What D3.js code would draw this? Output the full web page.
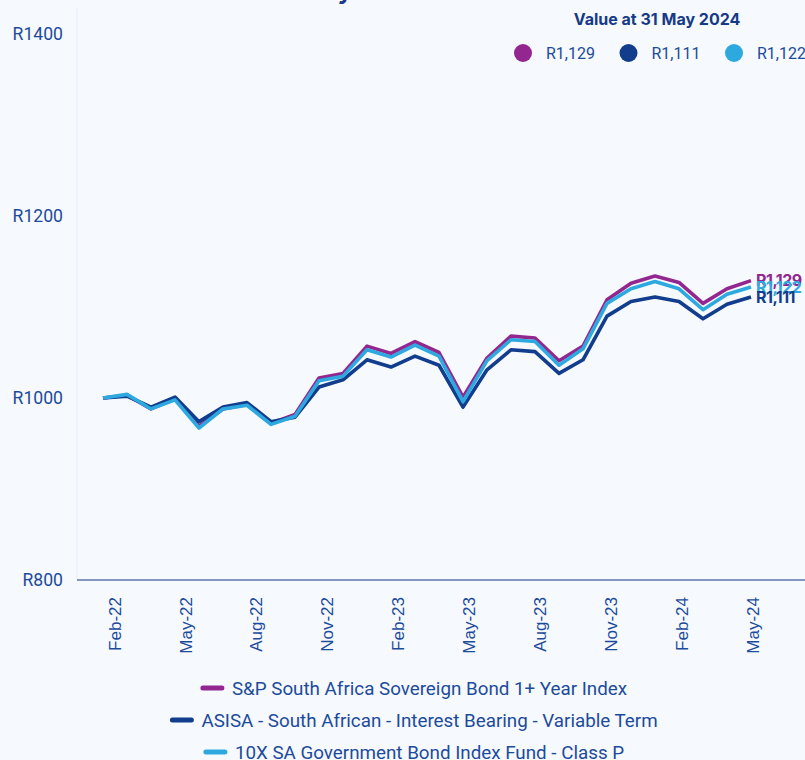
<!DOCTYPE html>
<html>
<head>
<meta charset="utf-8">
<script src="https://cdn.jsdelivr.net/npm/d3@7"></script>
<style>
  html, body { margin: 0; padding: 0; background: #f6f9fe; }
  svg { display: block; }
</style>
</head>
<body>
<div id="chart"></div>
<script>
// month labels, one per point (end of month)
const months = ["Feb-22","Mar-22","Apr-22","May-22","Jun-22","Jul-22","Aug-22","Sep-22","Oct-22","Nov-22",
  "Dec-22","Jan-23","Feb-23","Mar-23","Apr-23","May-23","Jun-23","Jul-23","Aug-23","Sep-23",
  "Oct-23","Nov-23","Dec-23","Jan-24","Feb-24","Mar-24","Apr-24","May-24"];
const tickLabels = ["Feb-22","May-22","Aug-22","Nov-22","Feb-23","May-23","Aug-23","Nov-23","Feb-24","May-24"];
const yTicks = [800, 1000, 1200, 1400];

const sovBond = [1000,1003,988,999,969,988,993,972,982,1022,1027,1057,1049,1062,1050,1001,1044,1068,1066,1041,1057,1108,1126,1134,1127,1104,1120,1129];
const asisaVar = [1000,1002,990,1001,974,990,995,974,979,1012,1020,1042,1034,1046,1036,990,1031,1053,1051,1027,1042,1090,1106,1111,1106,1087,1103,1111];
const fund10x = [1000,1004,988,998,967,988,992,971,980,1019,1024,1053,1045,1058,1046,996,1041,1064,1062,1036,1054,1104,1120,1128,1120,1097,1114,1122];

const seriesNames = ["S&P South Africa Sovereign Bond 1+ Year Index",
  "ASISA - South African - Interest Bearing - Variable Term",
  "10X SA Government Bond Index Fund - Class P"];
const seriesColors = ["#93278f", "#123d8d", "#2ea9e0"];
const endValues = ["R1,129", "R1,111", "R1,122"];

const series = [
  {name: seriesNames[0], color: seriesColors[0], values: sovBond, label: endValues[0]},
  {name: seriesNames[1], color: seriesColors[1], values: asisaVar, label: endValues[1]},
  {name: seriesNames[2], color: seriesColors[2], values: fund10x, label: endValues[2]}
];

const W = 805, H = 760;
const textColor = "#1d4b9b";

const svg = d3.select("#chart").append("svg")
  .attr("width", W).attr("height", H);

svg.append("rect").attr("width", W).attr("height", H).attr("fill", "#f6f9fe");

// title, cut off by the top edge
svg.append("text")
  .attr("x", 108).attr("y", -1)
  .attr("font-family", "Inter, sans-serif").attr("font-weight", 700)
  .attr("font-size", 24).attr("fill", "#1a3c86")
  .text("Performance History");

const x = d3.scalePoint().domain(months).range([103, 751]);
// axis labels sit a bit off the points, like in the source chart
const xLab = d3.scalePoint().domain(months).range([114, 752]);
const y = d3.scaleLinear().domain([800, 1400]).range([580, 34]);

// faint left edge
svg.append("line")
  .attr("x1", 77).attr("x2", 77).attr("y1", 8).attr("y2", 580)
  .attr("stroke", "#e9eef8").attr("stroke-width", 1);

// y axis labels
const yAxis = d3.axisLeft(y).tickValues(yTicks).tickSize(0).tickPadding(0)
  .tickFormat(d => "R" + d);
svg.append("g").attr("transform", "translate(63,0)").call(yAxis)
  .call(g => g.select(".domain").remove())
  .selectAll("text")
  .attr("font-family", "Roboto, sans-serif").attr("font-size", 17.6)
  .attr("fill", textColor);

// baseline
svg.append("line")
  .attr("x1", 77).attr("x2", W).attr("y1", y(800)).attr("y2", y(800))
  .attr("stroke", "#5d74ad").attr("stroke-width", 1.3);

// x axis labels
const xAxis = d3.axisBottom(xLab).tickValues(tickLabels).tickSize(0).tickPadding(0);
svg.append("g").attr("transform", "translate(0," + y(800) + ")").call(xAxis)
  .call(g => g.select(".domain").remove())
  .selectAll("text")
  .attr("font-family", "'Liberation Sans', Arial, sans-serif").attr("font-size", 17)
  .attr("fill", textColor)
  .attr("text-anchor", "end")
  .attr("transform", "rotate(-90)")
  .attr("x", -17).attr("y", 0).attr("dy", "0.36em");

// lines
const line = d3.line().x((d, i) => x(months[i])).y(d => y(d));
const drawOrder = [series[0], series[1], series[2]];
svg.append("g").selectAll("path").data(drawOrder).join("path")
  .attr("d", d => line(d.values))
  .attr("fill", "none")
  .attr("stroke", d => d.color)
  .attr("stroke-width", 3.6)
  .attr("stroke-linejoin", "round");

// end labels
const labelOrder = [series[0], series[2], series[1]];
svg.append("g").selectAll("text").data(labelOrder).join("text")
  .attr("x", 756)
  .attr("y", d => y(d.values[d.values.length - 1]))
  .attr("dy", "0.36em")
  .attr("font-family", "Inter, sans-serif").attr("font-weight", 700)
  .attr("font-size", 16).attr("letter-spacing", -0.5)
  .attr("fill", d => d.color)
  .text(d => d.label);

// top legend
svg.append("text")
  .attr("x", 657).attr("y", 25)
  .attr("text-anchor", "middle")
  .attr("font-family", "Inter, sans-serif").attr("font-weight", 700)
  .attr("font-size", 16)
  .attr("fill", "#173a86")
  .text("Value at 31 May 2024");

const topLeg = svg.append("g").selectAll("g").data(series).join("g")
  .attr("transform", (d, i) => "translate(" + (523 + i * 105.5) + ",53)");
topLeg.append("circle").attr("r", 9).attr("fill", d => d.color);
topLeg.append("text")
  .attr("x", 23).attr("dy", "0.36em")
  .attr("font-family", "Roboto, sans-serif").attr("font-size", 16)
  .attr("fill", textColor)
  .text(d => d.label);

// bottom legend, each row centred
const legRows = svg.append("g").selectAll("g").data(series).join("g")
  .attr("transform", (d, i) => "translate(0," + (688 + i * 32) + ")");
legRows.append("line")
  .attr("stroke", d => d.color)
  .attr("stroke-width", 5)
  .attr("stroke-linecap", "round");
legRows.append("text")
  .attr("dy", "0.36em")
  .attr("font-family", "Roboto, sans-serif").attr("font-size", 18.8)
  .attr("fill", textColor)
  .text(d => d.name);
legRows.each(function() {
  const g = d3.select(this);
  const tw = g.select("text").node().getComputedTextLength();
  const total = 23 + 8 + tw;
  const x0 = 414 - total / 2;
  g.select("line").attr("x1", x0 + 2).attr("x2", x0 + 21).attr("y1", 0).attr("y2", 0);
  g.select("text").attr("x", x0 + 31);
});
</script>
</body>
</html>
